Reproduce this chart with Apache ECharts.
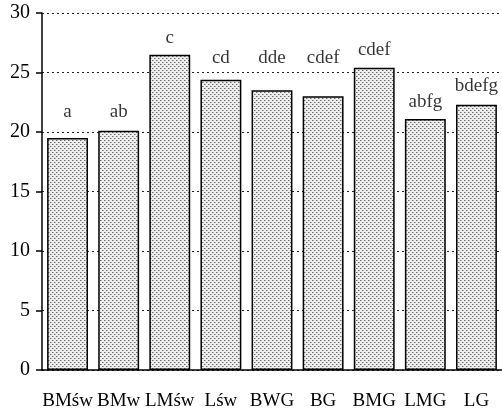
<!DOCTYPE html>
<html><head><meta charset="utf-8">
<script src="https://cdn.jsdelivr.net/npm/echarts@6/dist/echarts.min.js"></script>
<style>html,body{margin:0;padding:0;background:#fff}#c{width:502px;height:413px}</style>
</head><body><div id="c"></div>
<script>
const categories = ['BMśw','BMw','LMśw','Lśw','BWG','BG','BMG','LMG','LG'];
const values = [19.5, 20.1, 26.5, 24.4, 23.5, 23.0, 25.4, 21.1, 22.3];
const letters = ['a','ab','c','cd','dde','cdef','cdef','abfg','bdefg'];
// heights (in axis units) at which the significance letters are centred
const letterLevels = [21.7, 21.7, 27.9, 26.2, 26.2, 26.2, 26.9, 22.55, 23.85];

const pc = document.createElement('canvas');
pc.width = 4; pc.height = 4;
const g = pc.getContext('2d');
g.fillStyle = '#eeeeee'; g.fillRect(0,0,4,4);
g.fillStyle = '#6a6a6a'; g.fillRect(0,0,1,1); g.fillRect(2,2,1,1);
g.fillStyle = '#b0b0b0'; g.fillRect(1,0,1,1); g.fillRect(3,2,1,1);

const font = 'Liberation Serif';
const chart = echarts.init(document.getElementById('c'));
chart.setOption({
  animation: false,
  grid: {left: 42, top: 13, width: 463, height: 357, containLabel: false},
  xAxis: {
    type: 'category', data: categories,
    axisLine: {lineStyle: {color: '#000', width: 1.5}},
    axisTick: {show: false},
    axisLabel: {color: '#000', fontFamily: font, fontSize: 19, margin: 22, interval: 0}
  },
  yAxis: {
    type: 'value', min: 0, max: 30, interval: 5,
    axisLine: {show: true, lineStyle: {color: '#000', width: 1.5}},
    axisTick: {show: true, inside: false, length: 6, lineStyle: {color: '#000', width: 1.5}},
    axisLabel: {color: '#000', fontFamily: font, fontSize: 20, margin: 12},
    splitLine: {show: true, lineStyle: {color: '#222', type: [2, 3], width: 1.2}}
  },
  series: [{
    type: 'bar',
    data: values,
    barCategoryGap: '20%',
    itemStyle: {color: {image: pc, repeat: 'repeat'}, borderColor: '#000', borderWidth: 1.5}
  }, {
    type: 'scatter',
    data: letterLevels.map((v, i) => ({value: [i, v], label: {formatter: letters[i]}})),
    symbolSize: 0,
    silent: true,
    label: {show: true, position: 'inside', color: '#000', fontFamily: font, fontSize: 19}
  }]
});
</script></body></html>
